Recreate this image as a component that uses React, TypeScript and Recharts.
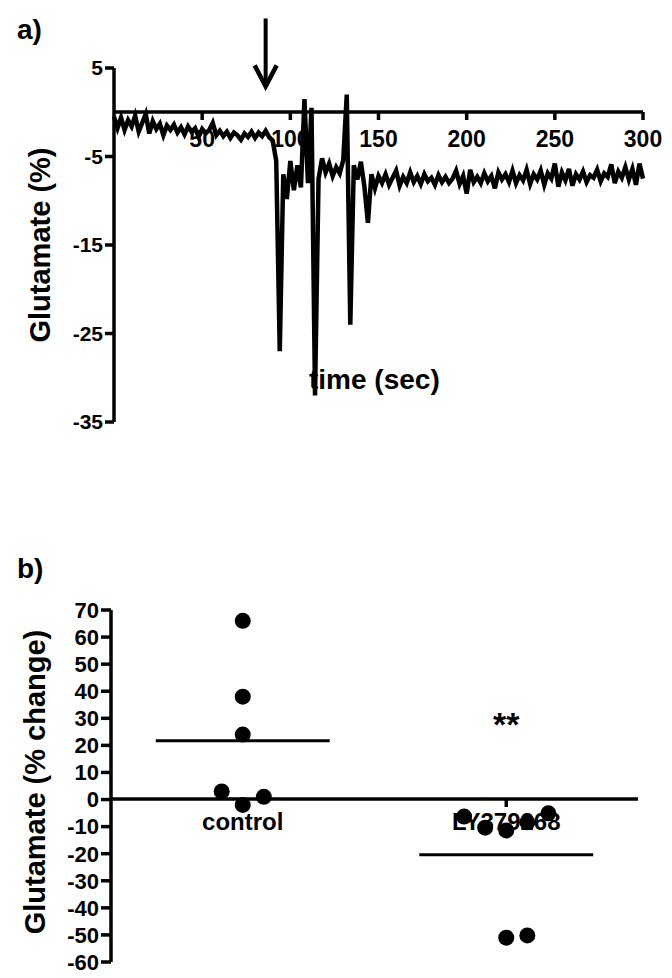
import React from "react";
import {
  LineChart, Line, XAxis, YAxis, ScatterChart, Scatter, ReferenceLine, ReferenceDot,
} from "recharts";

// ---- panel a: glutamate trace (every 2 s) ----
const timeSec = [
  0, 2, 4, 6, 8, 10, 12, 14, 16, 18, 20, 22, 24, 26, 28, 30, 32, 34, 36, 38,
  40, 42, 44, 46, 48, 50, 52, 54, 56, 58, 60, 62, 64, 66, 68, 70, 72, 74, 76, 78,
  80, 82, 84, 86, 88, 90, 92, 94, 96, 98, 100, 102, 104, 106, 108, 110, 112, 114, 116, 118,
  120, 122, 124, 126, 128, 130, 132, 134, 136, 138, 140, 142, 144, 146, 148, 150, 152, 154, 156, 158,
  160, 162, 164, 166, 168, 170, 172, 174, 176, 178, 180, 182, 184, 186, 188, 190, 192, 194, 196, 198,
  200, 202, 204, 206, 208, 210, 212, 214, 216, 218, 220, 222, 224, 226, 228, 230, 232, 234, 236, 238,
  240, 242, 244, 246, 248, 250, 252, 254, 256, 258, 260, 262, 264, 266, 268, 270, 272, 274, 276, 278,
  280, 282, 284, 286, 288, 290, 292, 294, 296, 298, 300,
];
const glutamatePct = [
  -0.5, -1.8, -0.6, -2.0, -0.9, -1.6, -0.4, -2.2, -1.2, -0.2, -2.4, -1.0, -1.9, -1.3, -2.6, -1.5, -2.0, -1.4, -2.3, -1.7,
  -2.5, -1.6, -2.2, -1.8, -2.8, -1.9, -2.4, -2.0, -1.2, -2.6, -2.1, -2.7, -2.2, -2.9, -2.3, -2.6, -3.1, -2.4, -2.8, -2.2,
  -2.9, -2.3, -2.7, -2.1, -2.8, -3.2, -5.5, -27.0, -7.0, -9.8, -5.5, -8.8, -6.0, -8.5, 1.5, -8.0, 0.5, -32.0, -7.5, -5.2,
  -6.8, -5.8, -7.2, -6.2, -6.9, -5.4, 2.0, -24.0, -6.0, -7.6, -5.6, -8.4, -12.5, -7.0, -8.6, -7.2, -8.0, -7.0, -8.2, -7.4,
  -6.6, -8.3, -7.3, -8.0, -6.8, -7.9, -7.2, -8.1, -7.0, -7.8, -7.4, -8.2, -7.1, -7.9, -7.3, -8.0, -7.5, -6.6, -8.1, -7.2,
  -9.2, -6.5, -7.9, -7.3, -8.0, -6.9, -7.8, -7.2, -8.6, -6.8, -7.6, -7.0, -7.9, -6.6, -8.0, -7.1, -7.7, -6.5, -8.1, -7.0,
  -7.6, -6.6, -8.2, -6.9, -7.5, -5.8, -8.4, -6.8, -7.7, -6.4, -8.3, -7.0, -7.6, -6.7, -7.9, -7.1, -7.4, -6.5, -7.8, -6.9,
  -7.3, -5.9, -8.0, -6.7, -7.4, -6.2, -7.6, -6.4, -8.2, -5.8, -7.5,
];
const timeTicks = [50, 100, 150, 200, 250, 300];
const pctTicksA = [5, -5, -15, -25, -35];
const arrowTime = 86;

// ---- panel b: individual animals ----
const groups = ["control", "LY379268"];
const controlChange = [66, 38, 24, 3, -2, 1];
const controlPos = [0.5, 0.5, 0.5, 0.42, 0.5, 0.58];
const lyChange = [-6.3, -10.4, -11.4, -8.4, -5.1, -51, -50.2];
const lyPos = [1.34, 1.42, 1.5, 1.58, 1.66, 1.5, 1.58];
const pctTicksB = [70, 60, 50, 40, 30, 20, 10, 0, -10, -20, -30, -40, -50, -60];

const trace = timeSec.map((t, i) => ({ t, v: glutamatePct[i] }));
const controlPts = controlChange.map((y, i) => ({ x: controlPos[i], y }));
const lyPts = lyChange.map((y, i) => ({ x: lyPos[i], y }));
const mean = (a: number[]) => a.reduce((s, v) => s + v, 0) / a.length;

const FONT = '"Liberation Sans", Arial, sans-serif';
const axisStroke = { stroke: "#000", strokeWidth: 3.5 };

const Dot = (p: any) => <circle cx={p.cx} cy={p.cy} r={8} fill="#000" />;

const Arrow = (p: any) => {
  const { x1, y1, x2, y2 } = p;
  return (
    <g>
      <line x1={x1} y1={y1} x2={x2} y2={y2 - 2} stroke="#000" strokeWidth={4} />
      <polyline
        points={`${x2 - 11},${y2 - 23} ${x2},${y2 - 2} ${x2 + 11},${y2 - 23}`}
        fill="none" stroke="#000" strokeWidth={4.5} strokeLinejoin="miter"
      />
    </g>
  );
};

export default function App() {
  return (
    <div style={{ position: "absolute", left: 0, top: 0, width: 672, height: 978, background: "#fff", fontFamily: FONT }}>
      <div style={{ position: "absolute", left: 17, top: 14, fontSize: 28, fontWeight: 700 }}>a)</div>
      <div style={{ position: "absolute", left: 17, top: 553, fontSize: 28, fontWeight: 700 }}>b)</div>

      {/* panel a: x axis crossing at 0, drawn underneath the trace */}
      <div style={{ position: "absolute", left: 0, top: 0 }}>
        <LineChart width={672} height={160} data={trace} margin={{ top: 10, right: 29, bottom: 0, left: 114 }}>
          <XAxis
            type="number" dataKey="t" domain={[0, 300]} ticks={timeTicks} height={48}
            axisLine={axisStroke} tickLine={axisStroke} tickSize={8} tickMargin={11}
            tick={{ fill: "#000", fontSize: 23, fontWeight: 700, fontFamily: FONT }}
          />
          <YAxis hide domain={[-35, 5]} />
          <Line dataKey="v" stroke="none" dot={false} isAnimationActive={false} />
        </LineChart>
      </div>
      <div style={{ position: "absolute", left: 309, top: 364, fontSize: 28, fontWeight: 700, whiteSpace: "nowrap" }}>
        time (sec)
      </div>
      <div style={{ position: "absolute", left: 0, top: 0 }}>
        <LineChart width={672} height={440} data={trace} margin={{ top: 68, right: 29, bottom: 18, left: 0 }}>
          <XAxis hide type="number" dataKey="t" domain={[0, 300]} />
          <YAxis
            width={114} domain={[-35, 5]} ticks={pctTicksA} interval={0}
            axisLine={axisStroke} tickLine={axisStroke} tickSize={9} tickMargin={2}
            tick={{ fill: "#000", fontSize: 21, fontWeight: 700, fontFamily: FONT }}
          />
          <ReferenceLine
            segment={[{ x: arrowTime, y: 10.6 }, { x: arrowTime, y: 2.7 }]}
            ifOverflow="visible" shape={Arrow}
          />
          <Line
            type="linear" dataKey="v" stroke="#000" strokeWidth={4.5} dot={false}
            strokeLinejoin="miter" isAnimationActive={false}
          />
        </LineChart>
      </div>
      <div style={{
        position: "absolute", left: 40, top: 245, transform: "translate(-50%, -50%) rotate(-90deg)",
        fontSize: 29, fontWeight: 700, whiteSpace: "nowrap",
      }}>
        Glutamate (%)
      </div>

      {/* panel b: category axis at 0, under the dots */}
      <div style={{ position: "absolute", left: 0, top: 540 }}>
        <LineChart width={672} height={309} data={controlPts} margin={{ top: 10, right: 34, bottom: 0, left: 111 }}>
          <XAxis
            type="number" dataKey="x" domain={[0, 2]} ticks={[0.5, 1.5]} height={50}
            tickFormatter={(v: number) => groups[Math.floor(v)]}
            axisLine={axisStroke} tickLine={axisStroke} tickSize={8} tickMargin={6}
            tick={{ fill: "#000", fontSize: 24, fontWeight: 700, fontFamily: FONT }}
          />
          <YAxis hide domain={[-60, 70]} />
          <Line dataKey="y" stroke="none" dot={false} isAnimationActive={false} />
        </LineChart>
      </div>
      <div style={{ position: "absolute", left: 0, top: 540 }}>
        <ScatterChart width={672} height={438} margin={{ top: 70, right: 34, bottom: 16, left: 0 }}>
          <XAxis hide type="number" dataKey="x" domain={[0, 2]} />
          <YAxis
            type="number" dataKey="y" width={111} domain={[-60, 70]} ticks={pctTicksB} interval={0}
            axisLine={axisStroke} tickLine={axisStroke} tickSize={10} tickMargin={2}
            tick={{ fill: "#000", fontSize: 22, fontWeight: 700, fontFamily: FONT }}
          />
          <ReferenceLine
            segment={[{ x: 0.17, y: mean(controlChange) }, { x: 0.83, y: mean(controlChange) }]}
            stroke="#000" strokeWidth={3}
          />
          <ReferenceLine
            segment={[{ x: 1.17, y: mean(lyChange) }, { x: 1.83, y: mean(lyChange) }]}
            stroke="#000" strokeWidth={3}
          />
          <ReferenceDot
            x={1.5} y={28} r={0}
            label={{ value: "**", position: "center", fill: "#000", fontSize: 34, fontWeight: 700, fontFamily: FONT }}
          />
          <Scatter data={controlPts} fill="#000" shape={Dot} isAnimationActive={false} />
          <Scatter data={lyPts} fill="#000" shape={Dot} isAnimationActive={false} />
        </ScatterChart>
      </div>
      <div style={{
        position: "absolute", left: 35, top: 782, transform: "translate(-50%, -50%) rotate(-90deg)",
        fontSize: 29, fontWeight: 700, whiteSpace: "nowrap",
      }}>
        Glutamate (% change)
      </div>
    </div>
  );
}
